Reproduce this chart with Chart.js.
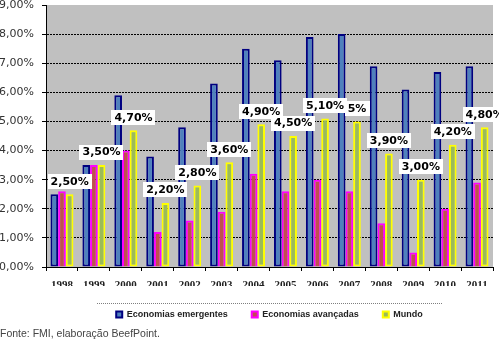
<!DOCTYPE html>
<html>
<head>
<meta charset="utf-8">
<script src="https://cdn.jsdelivr.net/npm/chart.js@4.4.0/dist/chart.umd.min.js"></script>
<style>
  html, body { margin: 0; padding: 0; background: #fff; }
  #wrap { position: relative; width: 499px; height: 350px; }
  #fonte { position: absolute; left: 0; top: 327px; font: 10.5px "Liberation Sans", sans-serif; color: #444; }
</style>
</head>
<body>
<div id="wrap">
  <canvas id="chart" width="499" height="350"></canvas>
  <div id="fonte">Fonte: FMI, elaboração BeefPoint.</div>
</div>
<script>
// Data
const years = ['1998', '1999', '2000', '2001', '2002', '2003', '2004', '2005', '2006', '2007', '2008', '2009', '2010', '2011'];
const emergentes = [2.5, 3.5, 5.9, 3.8, 4.8, 6.3, 7.5, 7.1, 7.9, 8.0, 6.9, 6.1, 6.7, 6.9];
const avancadas = [2.6, 3.5, 4.0, 1.2, 1.6, 1.9, 3.2, 2.6, 3.0, 2.6, 1.5, 0.5, 2.0, 2.9];
const mundo = [2.5, 3.5, 4.7, 2.2, 2.8, 3.6, 4.9, 4.5, 5.1, 5.0, 3.9, 3.0, 4.2, 4.8];
const mundoLabels = ['2,50%', '3,50%', '4,70%', '2,20%', '2,80%', '3,60%', '4,90%', '4,50%', '5,10%', '5%', '3,90%', '3,00%', '4,20%', '4,80%'];
const yTickLabels = ['0,00%', '1,00%', '2,00%', '3,00%', '4,00%', '5,00%', '6,00%', '7,00%', '8,00%', '9,00%'];

// gray plot area
const plotBackground = {
    id: 'plotBackground',
    beforeDraw(chart) {
        const a = chart.chartArea;
        const ctx = chart.ctx;
        ctx.save();
        ctx.fillStyle = '#c0c0c0';
        ctx.fillRect(a.left, a.top, a.right - a.left, a.bottom - a.top);
        ctx.restore();
    }
};

// white boxes with the world values
const valueLabels = {
    id: 'valueLabels',
    afterDatasetsDraw(chart) {
        const ctx = chart.ctx;
        const meta = chart.getDatasetMeta(2);
        ctx.save();
        ctx.font = 'bold 11px "DejaVu Sans", sans-serif';
        ctx.textAlign = 'center';
        ctx.textBaseline = 'middle';
        meta.data.forEach((bar, i) => {
            const txt = mundoLabels[i];
            const w = ctx.measureText(txt).width + 6;
            const h = 15;
            const cy = bar.y - 13;
            ctx.fillStyle = '#fff';
            ctx.fillRect(Math.round(bar.x - w / 2), Math.round(cy - h / 2), Math.round(w), h);
            ctx.fillStyle = '#000';
            ctx.fillText(txt, bar.x, cy + 0.5);
        });
        ctx.restore();
    }
};

// dotted separator above the legend
const legendRule = {
    id: 'legendRule',
    afterDraw(chart) {
        const ctx = chart.ctx;
        ctx.save();
        ctx.strokeStyle = '#7f7f7f';
        ctx.setLineDash([1, 1]);
        ctx.beginPath();
        ctx.moveTo(97, 303.5);
        ctx.lineTo(443, 303.5);
        ctx.stroke();
        ctx.restore();
    }
};

new Chart(document.getElementById('chart'), {
    type: 'bar',
    data: {
        labels: years,
        datasets: [
            {
                label: 'Economias emergentes',
                data: emergentes,
                backgroundColor: '#4f81bd',
                borderColor: '#000080',
                borderWidth: 2,
                borderSkipped: false
            },
            {
                label: 'Economias avançadas',
                data: avancadas,
                backgroundColor: '#c0504d',
                borderColor: '#ff00ff',
                borderWidth: 2
            },
            {
                label: 'Mundo',
                data: mundo,
                backgroundColor: '#9bbb59',
                borderColor: '#ffff00',
                borderWidth: 2,
                borderSkipped: false
            }
        ]
    },
    options: {
        responsive: false,
        animation: false,
        categoryPercentage: 0.72,
        barPercentage: 1,
        layout: { padding: { top: 5, right: 6, bottom: 21, left: 0 } },
        scales: {
            x: {
                grid: { drawOnChartArea: false, tickLength: 4, tickColor: '#000' },
                border: { color: '#000', width: 1 },
                ticks: {
                    padding: 8,
                    color: '#222',
                    font: { family: '"Liberation Serif", serif', size: 11, weight: 'bold' }
                },
                afterFit(scale) {
                    scale.height = 19;
                    scale.paddingLeft = 0;
                    scale.paddingRight = 0;
                }
            },
            y: {
                min: 0,
                max: 9,
                grid: {
                    color: c => (c.tick && c.tick.value === 9) ? 'rgba(0,0,0,0)' : '#000',
                    tickLength: 4,
                    tickColor: '#000',
                    tickBorderDash: []
                },
                border: { color: '#000', width: 1, dash: [2, 1] },
                ticks: {
                    stepSize: 1,
                    padding: 8,
                    color: '#333',
                    font: { family: '"DejaVu Sans", sans-serif', size: 11 },
                    callback: v => yTickLabels[v]
                },
                afterFit(scale) {
                    scale.width = 46;
                    scale.paddingTop = 0;
                    scale.paddingBottom = 0;
                }
            }
        },
        plugins: {
            legend: {
                position: 'bottom',
                fullSize: false,
                labels: {
                    boxWidth: 6,
                    boxHeight: 6,
                    padding: 24,
                    color: '#222',
                    font: { family: '"Liberation Sans", sans-serif', size: 9, weight: 'bold' }
                }
            },
            tooltip: { enabled: false }
        }
    },
    plugins: [plotBackground, valueLabels, legendRule]
});
</script>
</body>
</html>
